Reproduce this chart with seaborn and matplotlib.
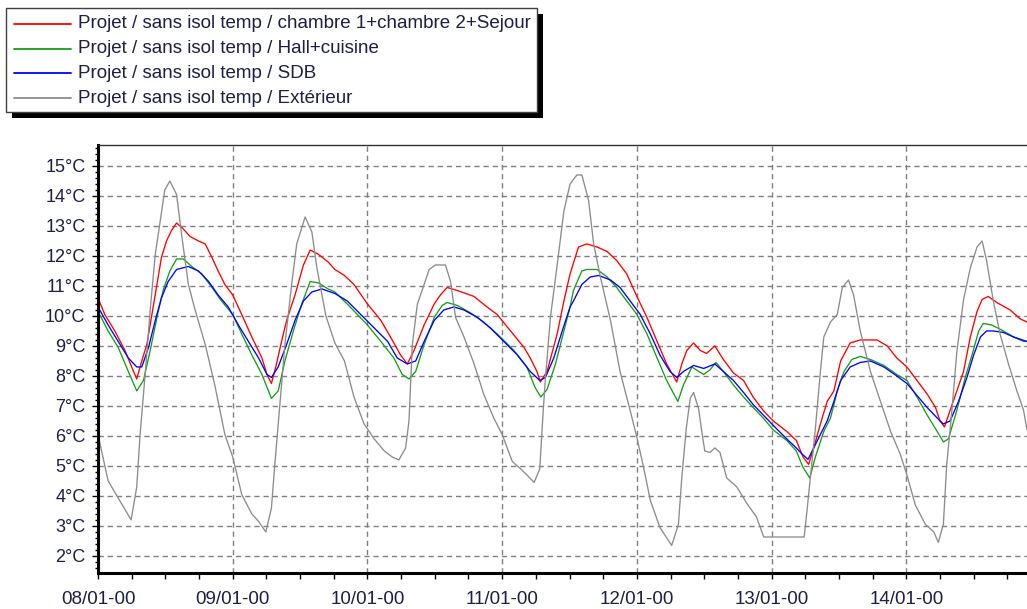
import numpy as np
import pandas as pd
import matplotlib
matplotlib.use("Agg")
import matplotlib.pyplot as plt
from matplotlib.patches import Rectangle
from matplotlib.lines import Line2D
import seaborn as sns

# ---------------- data (hours since 08/01-00, °C) ----------------
series_names = [
    "Projet / sans isol temp / chambre 1+chambre 2+Sejour",
    "Projet / sans isol temp / Hall+cuisine",
    "Projet / sans isol temp / SDB",
    "Projet / sans isol temp / Extérieur",
]
series_colors = ["#ff0000", "#1a9a1a", "#0000ff", "#8c8c8c"]

x_tick_hours = [0, 24, 48, 72, 96, 120, 144]
x_tick_labels = ["08/01-00", "09/01-00", "10/01-00", "11/01-00", "12/01-00", "13/01-00", "14/01-00"]
y_tick_values = list(range(2, 16))

ch_hours = [0, 1.2, 3, 4.8, 6, 6.9, 7.8, 8.7, 9.6, 10.5, 11.3, 12.2, 13.1, 14, 15.2, 16.4, 17.9, 19.1, 20.3, 21.4,
            22.6, 24, 25.6, 27.4, 29.2, 30.1, 30.9, 31.8, 32.7, 33.6, 35.1, 36.6, 37.8, 39.3, 41, 42.2, 43.9, 45.6,
            48, 50.4, 52.1, 53.9, 55.1, 56.3, 58.1, 59.9, 61, 62.2, 64, 67, 69.3, 71.1, 73.5, 75.9, 77, 78.2, 78.8,
            80, 81.8, 83, 84.1, 85.6, 87.1, 88.9, 90.7, 92.4, 94.2, 96, 97.8, 99.6, 101.3, 103.1, 104, 104.9, 106.1,
            107.3, 108.4, 109.9, 111.4, 113.2, 115, 116.7, 118.5, 120.3, 122.7, 124.4, 125.6, 126.6, 127.5, 128.7,
            129.9, 131.1, 132.3, 134, 135.8, 138.8, 140.6, 142.3, 144.1, 145.9, 147.7, 149.2, 150, 150.8, 151.8,
            153, 154.2, 155.4, 156.6, 157.5, 158.6, 160.1, 162.5, 164.3, 165.5]
ch_temp = [10.6, 10.05, 9.5, 8.85, 8.3, 7.9, 8.5, 9.05, 10.05, 11.05, 11.95, 12.5, 12.85, 13.1, 12.9, 12.65, 12.5,
           12.4, 11.95, 11.5, 11.05, 10.7, 10.05, 9.3, 8.6, 8.05, 7.75, 8.4, 9.15, 9.85, 10.7, 11.7, 12.2, 12.05,
           11.8, 11.55, 11.35, 11.05, 10.4, 9.85, 9.3, 8.7, 8.4, 8.85, 9.7, 10.4, 10.7, 10.95, 10.85, 10.65, 10.3,
           10.05, 9.5, 8.95, 8.6, 8.15, 7.8, 8.15, 9.4, 10.5, 11.4, 12.3, 12.4, 12.3, 12.15, 11.85, 11.4, 10.65,
           9.95, 9.15, 8.4, 7.8, 8.4, 8.85, 9.1, 8.85, 8.75, 9.0, 8.55, 8.1, 7.85, 7.3, 6.85, 6.5, 6.15, 5.85, 5.3,
           5.05, 5.6, 6.4, 7.15, 7.5, 8.5, 9.1, 9.2, 9.2, 9.0, 8.6, 8.3, 7.85, 7.4, 6.95, 6.5, 6.3, 6.85, 7.5, 8.15,
           9.3, 10.15, 10.55, 10.65, 10.45, 10.2, 9.9, 9.8]

hall_hours = [0, 1.8, 3.6, 5.4, 6.9, 8.1, 9.3, 10.5, 11.6, 12.8, 14, 15.2, 16.7, 18.5, 20.3, 22, 24, 25.6, 27.4, 29.2,
              30.9, 32.1, 33.3, 34.8, 36.3, 37.8, 39.3, 41, 42.2, 44.4, 46.2, 48, 50.4, 52.7, 54.2, 55.4, 56.6, 58.1,
              59.9, 61.3, 62.2, 64, 66.4, 68.7, 71.1, 74.1, 76.4, 77.9, 78.9, 80, 81.5, 83, 84.1, 84.7, 86.2, 87.1,
              88.9, 90.7, 92.4, 94.2, 96, 97.8, 99.6, 101.3, 103.3, 104.3, 105.8, 107, 107.9, 109, 110.1, 111.4,
              113.2, 115, 116.7, 118.5, 120.3, 122.7, 124.4, 125.6, 126.8, 127.8, 129.3, 130.5, 131.7, 132.9, 134.3,
              135.8, 137.6, 140, 142.3, 144.1, 145.9, 147.7, 149.5, 150.6, 151.5, 153, 154.5, 155.7, 156.9, 157.7,
              159.2, 161.3, 163.1, 164.9, 165.5]
hall_temp = [10.15, 9.5, 8.95, 8.15, 7.5, 7.85, 8.85, 9.95, 10.85, 11.5, 11.9, 11.9, 11.65, 11.4, 10.95, 10.5, 10.05,
             9.4, 8.7, 8.05, 7.25, 7.5, 8.5, 9.5, 10.4, 11.15, 11.1, 10.9, 10.8, 10.4, 10.05, 9.7, 9.15, 8.6, 8.05,
             7.9, 8.15, 9.05, 9.95, 10.35, 10.45, 10.35, 10.1, 9.8, 9.4, 8.85, 8.3, 7.6, 7.3, 7.55, 8.4, 9.5, 10.3,
             10.85, 11.5, 11.55, 11.55, 11.3, 10.95, 10.5, 10.05, 9.4, 8.6, 7.85, 7.15, 7.7, 8.3, 8.15, 8.05, 8.2,
             8.45, 8.15, 7.7, 7.3, 6.95, 6.6, 6.2, 5.85, 5.5, 4.95, 4.6, 5.3, 6.15, 6.6, 7.5, 8.15, 8.55, 8.65, 8.55,
             8.35, 8.05, 7.85, 7.3, 6.7, 6.15, 5.8, 5.9, 6.85, 7.95, 8.7, 9.5, 9.75, 9.7, 9.5, 9.3, 9.15, 9.15]

sdb_hours = [0, 1.8, 3.6, 5.4, 6.9, 7.8, 9, 10.2, 11.3, 12.5, 14, 16.1, 17.9, 19.7, 21.4, 23.2, 25, 26.8, 28.6, 30.1,
             30.9, 32.1, 33.6, 35.1, 36.6, 38.1, 39.9, 42.2, 44.4, 46.8, 49.2, 51.6, 53.3, 55.1, 56.6, 58.1, 59.9,
             61.6, 63.4, 65.2, 67.6, 69.9, 72.3, 74.7, 77, 78.7, 79.7, 81.2, 82.7, 84.1, 84.7, 86.2, 87.7, 89.2, 91.3,
             93, 94.8, 96.6, 98.4, 100.1, 101.9, 103.1, 104.3, 106.1, 107.9, 109.9, 111.4, 113.2, 115, 116.7, 118.5,
             120.3, 122.7, 124.4, 125.4, 126.5, 127.5, 128.7, 129.9, 131.1, 132.3, 134, 135.8, 137.6, 140, 142.3,
             144.1, 145.9, 147.7, 149.5, 150.6, 151.8, 153.3, 154.8, 156, 157.2, 158.3, 159.5, 161.3, 163.1, 165.5]
sdb_temp = [10.3, 9.7, 9.15, 8.6, 8.3, 8.3, 8.95, 9.85, 10.6, 11.15, 11.55, 11.65, 11.5, 11.15, 10.7, 10.3, 9.7, 9.15,
            8.6, 8.05, 7.95, 8.3, 9.05, 9.85, 10.5, 10.8, 10.9, 10.75, 10.5, 10.05, 9.6, 9.15, 8.6, 8.4, 8.5, 9.15,
            9.85, 10.2, 10.3, 10.2, 9.95, 9.6, 9.15, 8.7, 8.15, 7.85, 7.95, 8.6, 9.5, 10.3, 10.5, 11.05, 11.3, 11.35,
            11.2, 10.95, 10.5, 10.05, 9.4, 8.7, 8.15, 7.95, 8.15, 8.35, 8.25, 8.4, 8.15, 7.85, 7.45, 7.05, 6.7, 6.35,
            5.9, 5.6, 5.4, 5.22, 5.6, 6.05, 6.5, 7.15, 7.85, 8.3, 8.45, 8.5, 8.3, 8.0, 7.75, 7.35, 6.95, 6.6, 6.4,
            6.5, 7.15, 7.95, 8.7, 9.3, 9.5, 9.5, 9.45, 9.3, 9.15]

ext_hours = [0, 1.8, 5.9, 6.9, 7.5, 8.4, 9.3, 10.2, 11.1, 11.9, 12.8, 14.0, 14.9, 16.1, 17.3, 19.1, 20.8, 22.6, 24,
             25.6, 27.4, 28.6, 29.9, 30.9, 31.5, 32.4, 33.3, 34.5, 35.4, 36.9, 38.1, 39.0, 40.6, 42.2, 43.9, 45.6,
             47.4, 49.2, 51, 52.4, 53.6, 54.8, 55.4, 56, 56.9, 58.1, 59.0, 60.1, 61.9, 62.8, 63.7, 65.2, 67, 68.7,
             70.5, 72, 73.8, 75.3, 76.4, 77.7, 78.7, 79.3, 79.7, 80.6, 81.8, 83, 84.1, 85.3, 86.2, 87.4, 88.3, 89.5,
             91.3, 93, 94.8, 96, 97.2, 98.4, 100.1, 102.2, 103.4, 104, 104.8, 105.5, 106.1, 107, 107.6, 108.1, 109,
             109.9, 110.8, 112, 113.8, 115.6, 117.3, 118.6, 125.8, 126.3, 126.9, 127.8, 128.7, 129.3, 130.5, 131.7,
             132.6, 133.7, 134.6, 135.8, 137.6, 139.4, 141.2, 142.9, 144.1, 145.6, 147.4, 148.9, 149.7, 150.6,
             151.2, 152.1, 153, 154.2, 155.4, 156.6, 157.5, 158.3, 159.5, 160.7, 162.2, 163.7, 164.9, 165.5]
ext_temp = [6.05, 4.5, 3.2, 4.3, 6.05, 8.05, 10.2, 12.05, 13.2, 14.2, 14.5, 14.05, 12.7, 11.05, 10.2, 9.05, 7.7, 6.05,
            5.3, 4.05, 3.4, 3.15, 2.8, 3.6, 5.05, 7.05, 9.05, 11.05, 12.4, 13.3, 12.8, 11.6, 10.0, 9.1, 8.5, 7.3, 6.4,
            5.9, 5.5, 5.3, 5.2, 5.6, 6.5, 9.05, 10.4, 11.05, 11.55, 11.7, 11.7, 11.15, 9.95, 9.3, 8.4, 7.4, 6.6,
            6.05, 5.15, 4.9, 4.7, 4.45, 4.9, 6.8, 7.9, 9.95, 11.7, 13.5, 14.4, 14.7, 14.7, 13.85, 12.4, 11.3, 9.85,
            8.15, 6.85, 5.95, 4.95, 3.85, 2.95, 2.35, 3.05, 4.6, 6.25, 7.25, 7.45, 6.9, 6.1, 5.5, 5.45, 5.6, 5.45,
            4.6, 4.3, 3.75, 3.3, 2.63, 2.63, 3.5, 4.6, 6.25, 8.15, 9.3, 9.8, 10.05, 10.95, 11.2, 10.7, 9.5, 8.15,
            7.15, 6.15, 5.4, 4.7, 3.7, 3.05, 2.8, 2.45, 3.05, 5.05, 6.8, 8.8, 10.55, 11.6, 12.3, 12.5, 11.85, 10.5,
            9.4, 8.4, 7.5, 6.85, 6.2]

# ---------------- build long-form table ----------------
frames = []
for name, hrs, tmp in zip(series_names,
                          [ch_hours, hall_hours, sdb_hours, ext_hours],
                          [ch_temp, hall_temp, sdb_temp, ext_temp]):
    frames.append(pd.DataFrame({"hour": hrs, "temp": tmp, "series": name}))
df = pd.concat(frames, ignore_index=True)
palette = dict(zip(series_names, series_colors))

# ---------------- style ----------------
sns.set_style("white")
plt.rcParams["font.family"] = ["Liberation Sans", "DejaVu Sans"]
text_color = "#1e1e46"

W, H = 1027, 609
fig = plt.figure(figsize=(W / 100, H / 100), dpi=100)
fig.patch.set_facecolor("white")
ax = fig.add_axes([98 / W, (H - 573) / H, (W - 98) / W, (573 - 145) / H])
ax.set_facecolor("white")

sns.lineplot(data=df, x="hour", y="temp", hue="series", hue_order=series_names,
             palette=palette, estimator=None, sort=False, linewidth=0.95,
             legend=False, ax=ax)

ax.set_xlim(0, 165.5)
ax.set_ylim(1.43, 15.7)
ax.set_xticks(x_tick_hours, labels=x_tick_labels)
ax.set_xticks(np.arange(0, 166, 6), minor=True)
ax.set_yticks(y_tick_values, labels=[f"{v}°C" for v in y_tick_values])
ax.set_yticks(np.arange(1.6, 15.7, 0.2), minor=True)
ax.set_xlabel("")
ax.set_ylabel("")

ax.grid(True, which="major", color="#808080", linestyle=(0, (3.8, 2.8)), linewidth=1.0)
ax.set_axisbelow(True)

ax.tick_params(axis="x", which="both", direction="out", length=4, width=1, color="black",
               bottom=True, labelsize=13.5, labelcolor=text_color, pad=9)
ax.tick_params(axis="y", which="major", direction="out", length=4, width=1, color="black",
               left=True, labelsize=13, labelcolor=text_color, pad=5)
ax.tick_params(axis="y", which="minor", direction="out", length=2, width=1, color="black", left=True)

for side in ["left", "bottom"]:
    ax.spines[side].set_linewidth(2.2)
    ax.spines[side].set_color("black")
ax.spines["top"].set_linewidth(1.0)
ax.spines["top"].set_color("#303030")
ax.spines["right"].set_visible(False)

# ---------------- legend (box with black drop shadow) ----------------
def fx(px):
    return px / W

def fy(py):
    return 1 - py / H

fig.patches.append(Rectangle((fx(12), fy(118)), fx(543) - fx(12), fy(14) - fy(118),
                             transform=fig.transFigure, facecolor="black", edgecolor="none", zorder=1))
fig.patches.append(Rectangle((fx(6), fy(112)), fx(537) - fx(6), fy(8) - fy(112),
                             transform=fig.transFigure, facecolor="white", edgecolor="#404040",
                             linewidth=1.0, zorder=2))
for i, (name, col) in enumerate(zip(series_names, series_colors)):
    yc = 24 + i * 24.7
    fig.lines.append(Line2D([fx(14), fx(71)], [fy(yc), fy(yc)], transform=fig.transFigure,
                            color=col, linewidth=1.3, zorder=3))
    fig.text(fx(78), fy(yc), name, fontsize=13.5, color=text_color, va="center", ha="left", zorder=3)

fig.savefig("out.png", dpi=100)
